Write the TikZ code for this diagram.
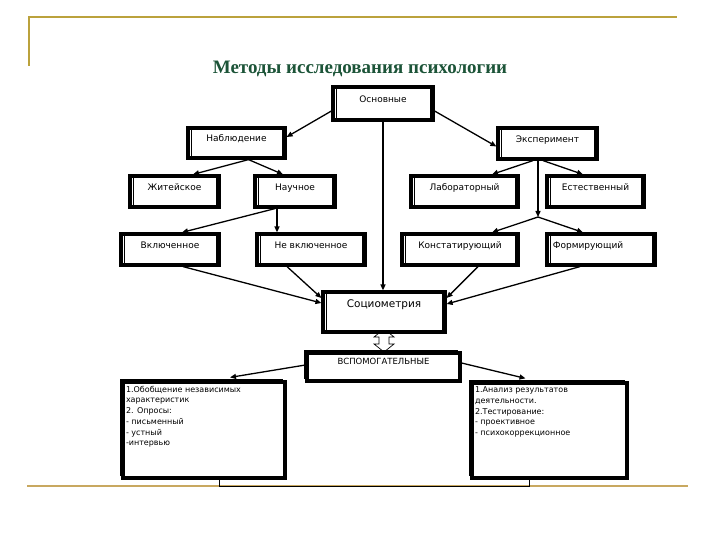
\documentclass[tikz,border=0pt]{standalone}
\usepackage{fontspec}
\setmainfont{DejaVu Sans}
\newfontfamily\titlefont{Liberation Serif}
\usetikzlibrary{arrows.meta,calc}
\definecolor{goldt}{RGB}{187,162,60}
\definecolor{goldb}{RGB}{200,168,96}
\definecolor{ttl}{RGB}{28,84,56}
\begin{document}
\begin{tikzpicture}[x=1pt,y=-1pt,
  bx/.style={draw, line width=3.2pt, fill=white, rectangle, inner sep=0pt,
    font=\fontsize{9}{10}\selectfont, text height=7pt, text depth=9pt,
    path picture={
      \draw[line width=0.6pt] ([xshift=3.2pt]path picture bounding box.north west) -- ([xshift=3.2pt]path picture bounding box.south west);
      \draw[line width=0.6pt] ([xshift=-3.2pt]path picture bounding box.north east) -- ([xshift=-3.2pt]path picture bounding box.south east);}},
  shbx/.style={draw, line width=3.2pt, fill=white, rectangle, inner sep=0pt,
    preaction={draw, line width=0.7pt, transform canvas={shift={(-3pt,3pt)}}}},
  ar/.style={line width=1.3pt, -{Triangle[length=6pt,width=5pt]}},
  txt/.style={font=\fontsize{8}{10.7}\selectfont}
]
\useasboundingbox (0,0) rectangle (720,540);
\fill[white] (0,0) rectangle (720,540);
% decorative lines
\draw[goldt, line width=2pt] (29,66) -- (29,17) -- (677,17);
\draw[goldb, line width=2.5pt] (27,486) -- (688,486);
% title
\node[anchor=base, text=ttl, font=\titlefont\bfseries\fontsize{19}{21}\selectfont] (title) at (360,74) {Методы исследования психологии};

% hollow double arrow (drawn first, boxes cover its ends)
\begin{scope}[shift={(384,332)}]
\draw[line width=0.7pt, fill=white] (0,-3) -- (-10,5) -- (-5,5) -- (-5,12) -- (-10,12) -- (0,20) -- (10,12) -- (5,12) -- (5,5) -- (10,5) -- cycle;
\end{scope}

% boxes
\node[bx, minimum width=100pt, minimum height=33pt] (osn) at (383,103.5) {Основные};
\node[bx, minimum width=97pt, minimum height=30pt] (nab) at (236.5,143) {Наблюдение};
\node[bx, minimum width=99pt, minimum height=31pt] (eks) at (547.5,143.5) {Эксперимент};
\node[bx, minimum width=89pt, minimum height=31pt] (zhit) at (174.5,191.5) {Житейское};
\node[bx, minimum width=80pt, minimum height=31pt] (nauch) at (295,191.5) {Научное};
\node[bx, minimum width=107pt, minimum height=31pt] (lab) at (464.5,191.5) {Лабораторный};
\node[bx, minimum width=97pt, minimum height=31pt] (est) at (595.5,191.5) {Естественный};
\node[bx, minimum width=98pt, minimum height=31pt] (vkl) at (170,249.5) {Включенное};
\node[bx, minimum width=108pt, minimum height=31pt] (nevkl) at (311,249.5) {Не включенное};
\node[bx, minimum width=116pt, minimum height=31pt] (konst) at (460,249.5) {Констатирующий};
\node[bx, minimum width=108pt, minimum height=31pt] (form) at (601,249.5) {Формирующий\hspace*{26pt}};
\node[bx, minimum width=122pt, minimum height=40pt, font=\fontsize{10.5}{12}\selectfont, text height=9pt, text depth=18pt] (socio) at (384,312) {Социометрия};
\node[shbx, minimum width=153pt, minimum height=28pt, font=\fontsize{8.5}{10}\selectfont, text height=6.5pt, text depth=12.5pt] (vspom) at (383.5,367) {ВСПОМОГАТЕЛЬНЫЕ};
\node[shbx, txt, minimum width=162pt, minimum height=96pt] (left) at (204,430) {\parbox[t][88pt][t]{156pt}{\raggedright
1.Обобщение независимых\\
характеристик\\
2. Опросы:\\
- письменный\\
- устный\\
-интервью}};
\node[shbx, txt, minimum width=155pt, minimum height=95pt] (right) at (549.5,430.5) {\parbox[t][87pt][t]{149pt}{\raggedright
1.Анализ результатов\\
деятельности.\\
2.Тестирование:\\
- проективное\\
- психокоррекционное}};

\coordinate (j) at (538,217);
\coordinate (c1) at (219,486);
\coordinate (c2) at (529,486);

% connectors
\draw[ar] ([yshift=-7.5pt]osn.west) -- ([yshift=6pt]nab.east);
\draw[ar] ([yshift=-7.5pt]osn.east) -- ([yshift=-3pt]eks.west);
\draw[ar] ([xshift=12pt]nab.south) -- ([xshift=18.5pt]zhit.north);
\draw[ar] ([xshift=12pt]nab.south) -- ([xshift=-12pt]nauch.north);
\draw[ar] ([xshift=-20pt]nauch.south) -- ([xshift=12pt]vkl.north);
\draw[ar] ([xshift=-18pt]nauch.south) -- ([xshift=-34pt]nevkl.north);
\draw[ar] ([xshift=-14.5pt]eks.south) -- ([xshift=27.5pt]lab.north);
\draw[ar] ([xshift=-4.5pt]eks.south) -- ([xshift=-12.5pt]est.north);
\draw[ar] ([xshift=-9.5pt]eks.south) -- (j);
\draw[ar] (j) -- ([xshift=32pt]konst.north);
\draw[ar] (j) -- ([xshift=-18pt]form.north);
\draw[ar] ([xshift=13pt]vkl.south) -- ([yshift=9pt]socio.west);
\draw[ar] ([xshift=-24pt]nevkl.south) -- ([yshift=14pt]socio.west);
\draw[ar] ([xshift=18pt]konst.south) -- ([yshift=14pt]socio.east);
\draw[ar] ([xshift=-21pt]form.south) -- ([yshift=8pt]socio.east);
\draw[ar] (osn.south) -- (osn.south |- socio.north);
\draw[ar] ([yshift=2pt]vspom.west) -- ([xshift=26pt,yshift=3pt]left.north);
\draw[ar] ([yshift=4pt]vspom.east) -- ([xshift=-24pt,yshift=3pt]right.north);
\draw[line width=0.9pt] (left.south -| c1) -- (c1) -- (c2) -- (right.south -| c2);
\end{tikzpicture}
\end{document}
